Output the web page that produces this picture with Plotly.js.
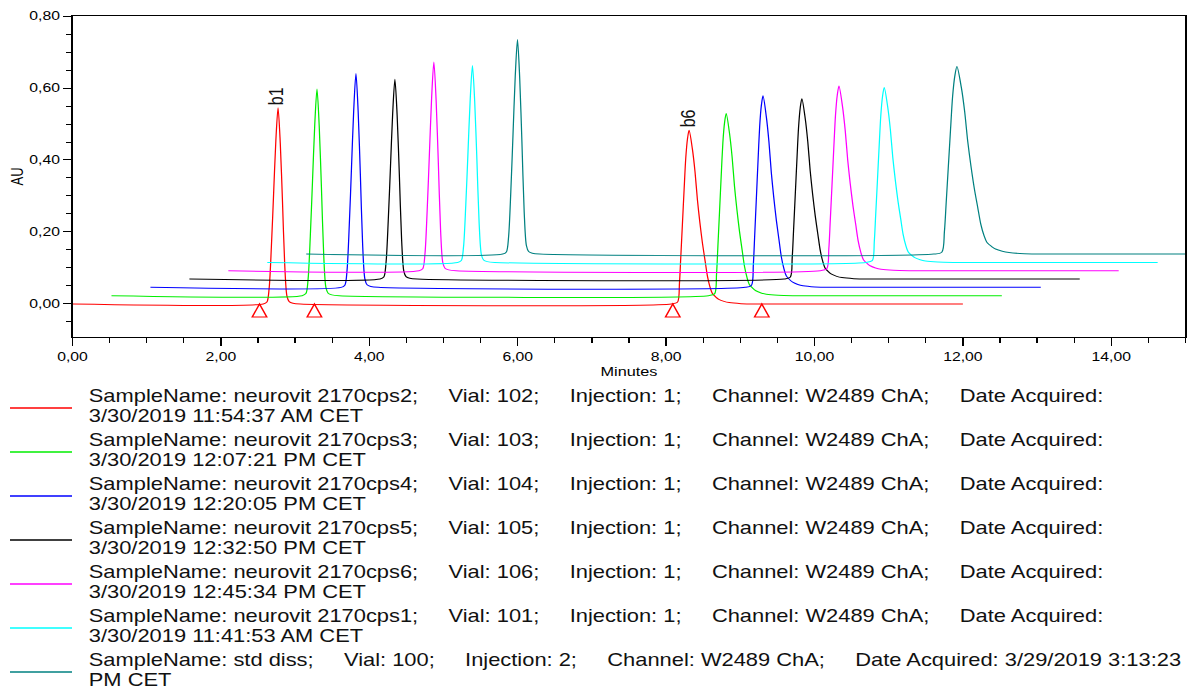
<!DOCTYPE html>
<html>
<head>
<meta charset="utf-8">
<script src="https://cdn.plot.ly/plotly-3.0.1.min.js"></script>
<style>
  html, body { margin: 0; padding: 0; background: #ffffff; overflow: hidden; }
  #stage { width: 950px; height: 690px; transform: scaleX(1.2505); transform-origin: 0 0; }
  #chart { width: 950px; height: 690px; }
</style>
</head>
<body>
<div id="stage"><div id="chart"></div></div>
<script>
// ------------------------------------------------------------------
// Data
// ------------------------------------------------------------------
const SAMPLE_NAMES = ['neurovit 2170cps2', 'neurovit 2170cps3', 'neurovit 2170cps4',
                      'neurovit 2170cps5', 'neurovit 2170cps6', 'neurovit 2170cps1', 'std diss'];
const VIALS       = [102, 103, 104, 105, 106, 101, 100];
const INJECTIONS  = [1, 1, 1, 1, 1, 1, 2];
const CHANNELS    = ['W2489 ChA', 'W2489 ChA', 'W2489 ChA', 'W2489 ChA', 'W2489 ChA', 'W2489 ChA', 'W2489 ChA'];
const DATES       = ['3/30/2019 11:54:37 AM CET', '3/30/2019 12:07:21 PM CET', '3/30/2019 12:20:05 PM CET',
                     '3/30/2019 12:32:50 PM CET', '3/30/2019 12:45:34 PM CET', '3/30/2019 11:41:53 AM CET',
                     '3/29/2019 3:13:23 PM CET'];
const COLORS      = ['#ff0000', '#00ee00', '#0000ff', '#000000', '#ff00ff', '#00ffff', '#008080'];

// run length (minutes) and overlay offsets between successive runs
const RUN_START = 0.0;
const RUN_END   = 12.0;
const OVERLAY_X_OFFSET = 0.525;   // min
const OVERLAY_Y_OFFSET = 0.0231;  // AU

// peak table (retention time in min, height in AU, relative width) for each run
const PEAK_NAMES = ['b1', 'b6'];
const B1_RT     = [2.77, 2.77, 2.77, 2.77, 2.77, 2.765, 2.847];
const B1_HEIGHT = [0.545, 0.574, 0.594, 0.555, 0.580, 0.547, 0.596];
const B1_WIDTH  = [1.0, 1.0, 1.0, 1.0, 1.0, 1.0, 1.0];
const B6_RT     = [8.31, 8.285, 8.256, 8.255, 8.23, 8.315, 8.77];
const B6_HEIGHT = [0.4825, 0.506, 0.532, 0.501, 0.513, 0.486, 0.521];
const B6_WIDTH  = [1.0, 1.0, 1.0, 1.0, 1.05, 1.03, 1.3];

// peak outlines (time from apex in min, fraction of apex height)
const B1_PROFILE_DT   = [-0.20, -0.15, -0.12, -0.09, -0.06, -0.03, 0, 0.03, 0.06, 0.09, 0.12, 0.15, 0.20, 0.30];
const B1_PROFILE_FRAC = [0, 0.01, 0.08, 0.29, 0.56, 0.83, 1, 0.82, 0.52, 0.20, 0.04, 0.012, 0.004, 0];
const B6_PROFILE_DT   = [-0.24, -0.157, -0.13, -0.112, -0.09, -0.067, -0.045, -0.022, 0, 0.045, 0.08, 0.112,
                         0.145, 0.18, 0.215, 0.247, 0.28, 0.314, 0.36, 0.40, 0.47, 0.54, 0.70, 0.90];
const B6_PROFILE_FRAC = [0, 0.01, 0.12, 0.27, 0.46, 0.66, 0.84, 0.95, 1, 0.89, 0.76, 0.60,
                         0.47, 0.35, 0.25, 0.16, 0.10, 0.06, 0.04, 0.027, 0.015, 0.008, 0.002, 0];

// integration start/end marks of the first run (min)
const INTEGRATION_MARKS = [2.52, 3.26, 8.09, 9.29];

// axis settings
const X_RANGE = [0, 15];
const Y_RANGE = [-0.0917, 0.80];

// ------------------------------------------------------------------
// Layout geometry (the whole picture is drawn 950 px wide and stretched)
// ------------------------------------------------------------------
const W = 950, H = 690, SX = 1188 / W;
const M = { l: 58, r: 2, t: 16, b: 353 };
const PW = W - M.l - M.r, PH = H - M.t - M.b;
const paperX = refX => (refX / SX - M.l) / PW;
const paperY = refY => (H - M.b - refY) / PH;

const FONT = 'Liberation Sans, Arial, sans-serif';
const TEXT_COLOR = '#111111';

// ------------------------------------------------------------------
// Traces
// ------------------------------------------------------------------
function buildRun(i) {
  const xs = [RUN_START], ys = [0];
  const peaks = [
    [B1_RT[i], B1_HEIGHT[i], B1_WIDTH[i], B1_PROFILE_DT, B1_PROFILE_FRAC],
    [B6_RT[i], B6_HEIGHT[i], B6_WIDTH[i], B6_PROFILE_DT, B6_PROFILE_FRAC]
  ];
  peaks.forEach(([rt, h, w, dts, frs]) => {
    dts.forEach((d, k) => { xs.push(rt + d * w); ys.push(h * frs[k]); });
  });
  xs.push(RUN_END); ys.push(0);
  return {
    x: xs.map(v => v + i * OVERLAY_X_OFFSET),
    y: ys.map(v => v + i * OVERLAY_Y_OFFSET)
  };
}

const traces = SAMPLE_NAMES.map((name, i) => {
  const run = buildRun(i);
  return {
    type: 'scatter', mode: 'lines', name: name,
    x: run.x, y: run.y,
    line: { color: COLORS[i], width: 1, shape: 'spline', smoothing: 0.8 },
    hoverinfo: 'skip', showlegend: false
  };
});

// ------------------------------------------------------------------
// Annotations and shapes
// ------------------------------------------------------------------
const annotations = [];
const shapes = [];

// peak labels on the first run
[[B1_RT[0], B1_HEIGHT[0]], [B6_RT[0], B6_HEIGHT[0]]].forEach(([t, h], k) => {
  annotations.push({
    x: t, y: h, xref: 'x', yref: 'y', text: PEAK_NAMES[k], showarrow: false,
    textangle: -90, xanchor: 'center', yanchor: 'bottom', yshift: 1, xshift: -1,
    font: { family: FONT, size: 16, color: TEXT_COLOR }
  });
});

// integration marks (open red triangles, apex on the baseline)
INTEGRATION_MARKS.forEach(t => {
  shapes.push({
    type: 'path', xref: 'x', yref: 'y', xsizemode: 'pixel', ysizemode: 'pixel',
    xanchor: t, yanchor: 0,
    path: 'M0,0L5.8,-13L-5.8,-13Z',
    line: { color: '#ff0000', width: 1.2 }, fillcolor: 'rgba(0,0,0,0)'
  });
});

// legend block
const SEP = '\u00a0\u00a0\u00a0\u00a0\u00a0';
const LEG_FONT_SIZE = 17.5;
const measure = (() => {
  const c = document.createElement('canvas').getContext('2d');
  c.font = LEG_FONT_SIZE + "px 'Liberation Sans'";
  return s => c.measureText(s).width;
})();
const LEG_TEXT_X = 87;      // px in reference
const LEG_TEXT_RIGHT = 1188;
const LEG_ROW1_Y = 395.5, LEG_ROW_GAP = 20.5, LEG_ENTRY_GAP = 44;
const LEG_LINE_X0 = 10, LEG_LINE_X1 = 72, LEG_LINE_Y = 408;

SAMPLE_NAMES.forEach((name, i) => {
  let line1 = 'SampleName: ' + name + ';' + SEP + 'Vial: ' + VIALS[i] + ';' + SEP +
              'Injection: ' + INJECTIONS[i] + ';' + SEP + 'Channel: ' + CHANNELS[i] + ';' + SEP +
              'Date Acquired:';
  const words = DATES[i].split(' ');
  const avail = (LEG_TEXT_RIGHT - LEG_TEXT_X) / SX;
  let k = 0;
  while (k < words.length && measure(line1 + ' ' + words[k]) <= avail) {
    line1 += ' ' + words[k];
    k++;
  }
  const line2 = words.slice(k).join(' ');
  const y1 = LEG_ROW1_Y + i * LEG_ENTRY_GAP;
  [[line1, y1], [line2, y1 + LEG_ROW_GAP]].forEach(([txt, yy]) => {
    if (!txt) return;
    annotations.push({
      xref: 'paper', yref: 'paper', x: paperX(LEG_TEXT_X), y: paperY(yy),
      xanchor: 'left', yanchor: 'middle', showarrow: false, text: txt, align: 'left',
      borderpad: 0,
      font: { family: FONT, size: LEG_FONT_SIZE, color: TEXT_COLOR }
    });
  });
  const ly = paperY(LEG_LINE_Y + i * LEG_ENTRY_GAP);
  shapes.push({
    type: 'line', xref: 'paper', yref: 'paper',
    x0: paperX(LEG_LINE_X0), x1: paperX(LEG_LINE_X1), y0: ly, y1: ly,
    line: { color: COLORS[i], width: 1.3 }
  });
});

// ------------------------------------------------------------------
// Layout
// ------------------------------------------------------------------
const axisCommon = {
  showline: true, mirror: true, linecolor: '#000000', linewidth: 1,
  showgrid: false, zeroline: false, ticks: 'outside', tickcolor: '#000000', tickwidth: 1,
  tickformat: '.2f', tickmode: 'linear', tick0: 0,
  tickfont: { family: FONT, size: 12.6, color: '#000000' }
};

const layout = {
  width: W, height: H,
  margin: M,
  paper_bgcolor: '#ffffff', plot_bgcolor: '#ffffff',
  separators: ',.',
  showlegend: false,
  xaxis: Object.assign({}, axisCommon, {
    range: X_RANGE, dtick: 2, ticklen: 8,
    minor: { dtick: 0.5, ticks: 'outside', ticklen: 5, tickcolor: '#000000', tickwidth: 1, showgrid: false },
    title: { text: 'Minutes', standoff: 3, font: { family: FONT, size: 13, color: '#000000' } }
  }),
  yaxis: Object.assign({}, axisCommon, {
    range: Y_RANGE, dtick: 0.2, ticklen: 6.5,
    minor: { dtick: 0.05, ticks: 'outside', ticklen: 4.5, tickcolor: '#000000', tickwidth: 1, showgrid: false },
    title: { text: 'AU', standoff: 1, font: { family: FONT, size: 13, color: '#000000' } }
  }),
  annotations: annotations,
  shapes: shapes
};

Plotly.newPlot('chart', traces, layout, { displayModeBar: false, staticPlot: true });
</script>
</body>
</html>
